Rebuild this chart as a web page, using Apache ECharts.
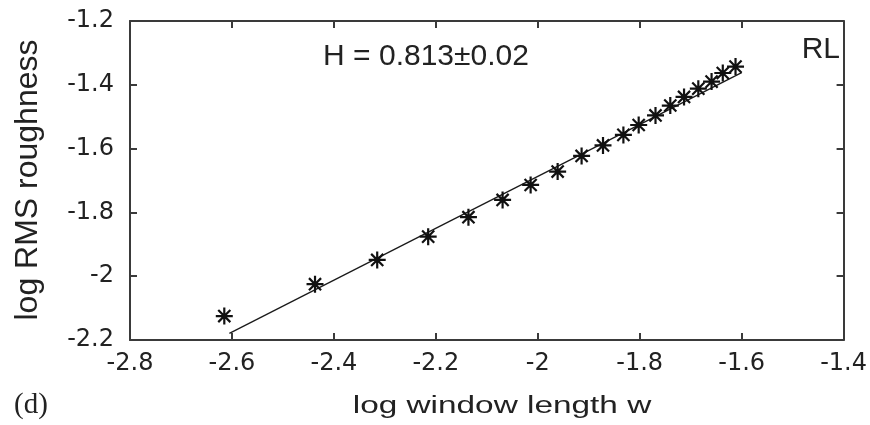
<!DOCTYPE html>
<html>
<head>
<meta charset="utf-8">
<script src="https://cdn.jsdelivr.net/npm/echarts@6/dist/echarts.min.js"></script>
<style>
html,body{margin:0;padding:0;background:#fff;}
#chart{width:870px;height:425px;}
</style>
</head>
<body>
<div id="chart"></div>
<script>
// Data
const logW   = [-2.615,-2.437,-2.315,-2.215,-2.136,-2.069,-2.014,-1.961,-1.914,-1.872,-1.832,-1.802,-1.769,-1.740,-1.713,-1.685,-1.659,-1.637,-1.612];
const logRMS = [-2.125,-2.025,-1.949,-1.876,-1.815,-1.761,-1.714,-1.672,-1.623,-1.590,-1.557,-1.526,-1.496,-1.465,-1.438,-1.412,-1.390,-1.363,-1.343];
const fitX = [-2.605, -1.600];
const fitY = [-2.179, -1.362];
const xTicks = [-2.8,-2.6,-2.4,-2.2,-2,-1.8,-1.6,-1.4];
const yTicks = [-2.2,-2,-1.8,-1.6,-1.4,-1.2];
const annotation = 'H = 0.813\u00b10.02';
const tag = 'RL';
const xTitle = 'log window length w';
const yTitle = 'log RMS roughness';
const panel = '(d)';

const chart = echarts.init(document.getElementById('chart'), null, {renderer:'canvas'});
const frame = '#3a3a3a';
const font = '"Liberation Sans", Arial, Helvetica, sans-serif';
const tickFont = '"DejaVu Sans", "Liberation Sans", sans-serif';
const fmt = v => String(Math.round(v*10)/10);

const baseX = {
  type:'value', min:-2.8, max:-1.4, interval:0.2,
  axisLine:{show:true, onZero:false, lineStyle:{color:frame, width:2}},
  axisTick:{show:true, inside:true, length:7, lineStyle:{color:frame, width:2}},
  splitLine:{show:false}
};
const baseY = {
  type:'value', min:-2.2, max:-1.2, interval:0.2,
  axisLine:{show:true, onZero:false, lineStyle:{color:frame, width:2}},
  axisTick:{show:true, inside:true, length:7, lineStyle:{color:frame, width:2}},
  splitLine:{show:false}
};

const starPath = 'path://M0,-8L0,8M-8,0L8,0M-5.7,-5.7L5.7,5.7M-5.7,5.7L5.7,-5.7';

chart.setOption({
  animation:false,
  backgroundColor:'#fff',
  grid:{left:130, right:20, top:21, bottom:85},
  xAxis:[
    Object.assign({}, baseX, {position:'bottom',
      axisLabel:{show:true, margin:12, color:'#222', fontSize:24, fontFamily:tickFont,
        formatter: v => fmt(v)}}),
    Object.assign({}, baseX, {position:'top', axisLabel:{show:false}})
  ],
  yAxis:[
    Object.assign({}, baseY, {position:'left',
      axisLabel:{show:true, margin:16, color:'#222', fontSize:24, fontFamily:tickFont,
        formatter: v => fmt(v)}}),
    Object.assign({}, baseY, {position:'right', axisLabel:{show:false}})
  ],
  series:[
    {
      type:'line', xAxisIndex:0, yAxisIndex:0,
      data: fitX.map((x,i)=>[x, fitY[i]]),
      symbol:'none', lineStyle:{color:'#1a1a1a', width:1.3}, z:2
    },
    {
      type:'scatter', xAxisIndex:0, yAxisIndex:0,
      data: logW.map((x,i)=>[x, logRMS[i]]),
      symbol: starPath, symbolSize:17,
      itemStyle:{color:'#111', borderColor:'#111', borderWidth:2.2, opacity:1},
      z:3
    }
  ],
  graphic:[
    {type:'text', x:426, y:57, style:{text:annotation, font:'30px '+font, fill:'#222', align:'center', verticalAlign:'middle'}},
    {type:'text', x:840, y:50, style:{text:tag, font:'30px '+font, fill:'#222', align:'right', verticalAlign:'middle'}},
    {type:'text', x:502, y:407, scaleX:1.45, style:{text:xTitle, font:'23px '+font, fill:'#222', align:'center', verticalAlign:'middle'}},
    {type:'text', x:28, y:180, rotation:Math.PI/2, style:{text:yTitle, font:'32px '+font, fill:'#222', align:'center', verticalAlign:'middle'}},
    {type:'text', x:14, y:405, style:{text:panel, font:'29px "Liberation Serif", "Times New Roman", serif', fill:'#222', align:'left', verticalAlign:'middle'}}
  ]
});
</script>
</body>
</html>
